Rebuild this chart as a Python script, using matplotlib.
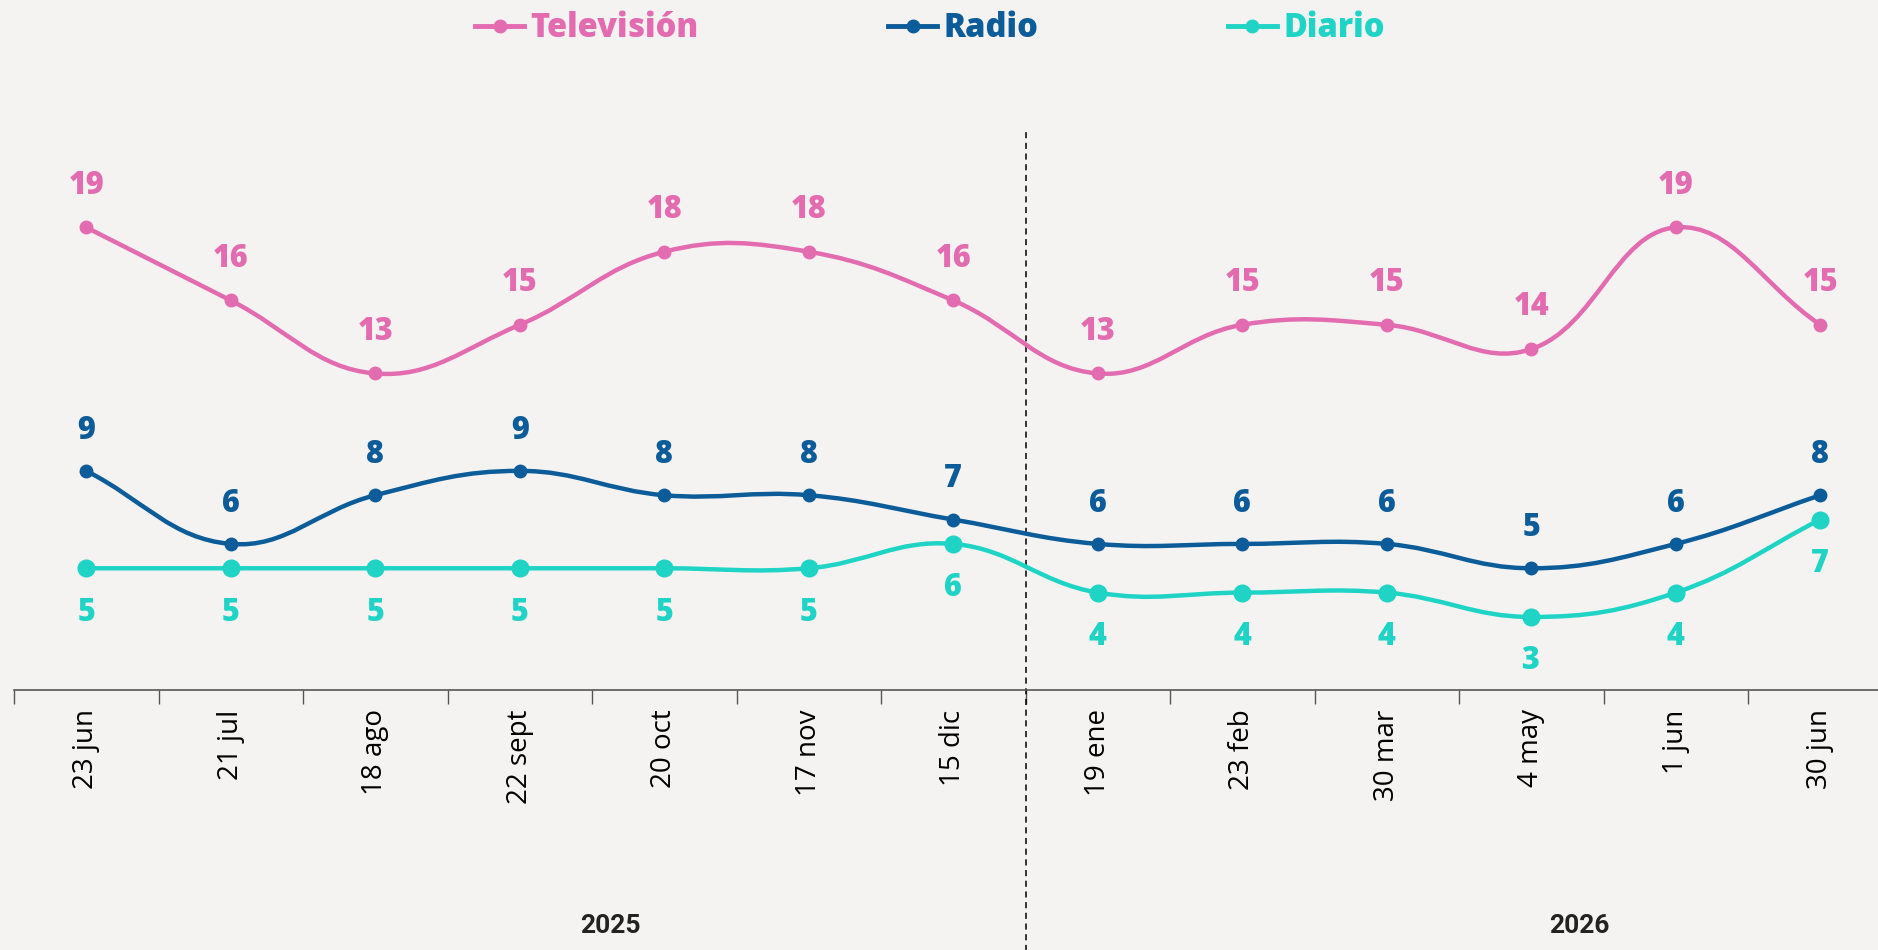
import matplotlib.pyplot as plt
from matplotlib.path import Path
from matplotlib.patches import PathPatch
from matplotlib.lines import Line2D
import numpy as np

# Data
fechas = ['23 jun', '21 jul', '18 ago', '22 sept', '20 oct', '17 nov', '15 dic',
          '19 ene', '23 feb', '30 mar', '4 may', '1 jun', '30 jun']
television = [19, 16, 13, 15, 18, 18, 16, 13, 15, 15, 14, 19, 15]
radio = [9, 6, 8, 9, 8, 8, 7, 6, 6, 6, 5, 6, 8]
diario = [5, 5, 5, 5, 5, 5, 6, 4, 4, 4, 3, 4, 7]
years = ['2025', '2026']

c_tv = '#E36BAF'
c_radio = '#0B5C98'
c_diario = '#1FD3C5'
bg = '#F4F3F2'

W, H = 1878, 950
fig = plt.figure(figsize=(W / 100, H / 100), dpi=100, facecolor=bg)
# axes: x=-0.5 at px 14, 144.5 px per category; y=0 at px 690, top at px 130
ax = fig.add_axes([14 / W, (H - 690) / H, 13 * 144.5 / W, 560 / H])
ax.set_facecolor('none')
ymax = 23
ax.set_xlim(-0.5, 12.5)
ax.set_ylim(0, ymax)
sx = 144.5
sy = 560 / ymax


def spline_path(xs, ys, t=0.4):
    # Chart.js style bezier control points, computed in pixel space
    px = np.array(xs, float) * sx
    py = np.array(ys, float) * sy
    n = len(px)
    cps = []
    for i in range(n):
        prev = i - 1 if i > 0 else i
        nxt = i + 1 if i < n - 1 else i
        d01 = np.hypot(px[i] - px[prev], py[i] - py[prev])
        d12 = np.hypot(px[nxt] - px[i], py[nxt] - py[i])
        tot = d01 + d12
        s01 = d01 / tot if tot else 0
        s12 = d12 / tot if tot else 0
        fa, fb = t * s01, t * s12
        dx, dy = px[nxt] - px[prev], py[nxt] - py[prev]
        cps.append(((px[i] - fa * dx, py[i] - fa * dy), (px[i] + fb * dx, py[i] + fb * dy)))
    verts = [(px[0], py[0])]
    codes = [Path.MOVETO]
    for i in range(n - 1):
        verts += [cps[i][1], cps[i + 1][0], (px[i + 1], py[i + 1])]
        codes += [Path.CURVE4] * 3
    verts = [(vx / sx, vy / sy) for vx, vy in verts]
    return Path(verts, codes)


x = np.arange(len(fechas))
series = [
    (television, c_tv, 'Televisión', 9, 30),
    (radio, c_radio, 'Radio', 9, 29),
    (diario, c_diario, 'Diario', 12, -32),
]
handles = []
for vals, col, name, ms, off in series:
    ax.add_patch(PathPatch(spline_path(x, vals), fill=False, edgecolor=col, lw=3.2, zorder=3,
                           capstyle='round'))
    ax.plot(x, vals, 'o', color=col, ms=ms, zorder=4)
    for xi, v in zip(x, vals):
        ax.annotate(str(v), (xi, v), xytext=(0, off), textcoords='offset points',
                    ha='center', va='center', color=col, fontsize=22,
                    fontweight=800, family='Open Sans')
    handles.append(Line2D([0], [0], color=col, lw=3.5, marker='o', ms=9, label=name))

# divider between years
ax.plot([6.5, 6.5], [-0.47, 1.0], transform=ax.get_xaxis_transform(), color='black',
        lw=1.1, ls=(0, (4, 3)), clip_on=False, zorder=2)

for side in ['left', 'right', 'top']:
    ax.spines[side].set_visible(False)
ax.spines['bottom'].set_color('#555555')
ax.spines['bottom'].set_linewidth(1.2)
ax.set_yticks([])
ax.set_xticks(x)
ax.set_xticklabels(fechas, rotation=90, fontsize=20, family='Open Sans', va='top')
ax.tick_params(axis='x', which='major', length=0, pad=14, colors='black')
ax.set_xticks(np.arange(-0.5, 12.6, 1), minor=True)
ax.tick_params(axis='x', which='minor', length=10, width=1, color='#555555')

ax.text(3.63, -0.421, years[0], transform=ax.get_xaxis_transform(), ha='center', va='center',
        fontsize=19, fontweight='bold', color='#222222', family='Roboto')
ax.text(10.33, -0.421, years[1], transform=ax.get_xaxis_transform(), ha='center', va='center',
        fontsize=19, fontweight='bold', color='#222222', family='Roboto')

leg = fig.legend(handles=handles, loc='center', bbox_to_anchor=(930 / W, 1 - 28 / H), ncol=3,
                 frameon=False, handlelength=1.5, handletextpad=0.2, columnspacing=5.8,
                 prop={'family': 'Open Sans', 'weight': 800, 'size': 23.5})
for txt, (_, col, _, _, _) in zip(leg.get_texts(), series):
    txt.set_color(col)

fig.savefig('out.png', dpi=100, facecolor=bg)
